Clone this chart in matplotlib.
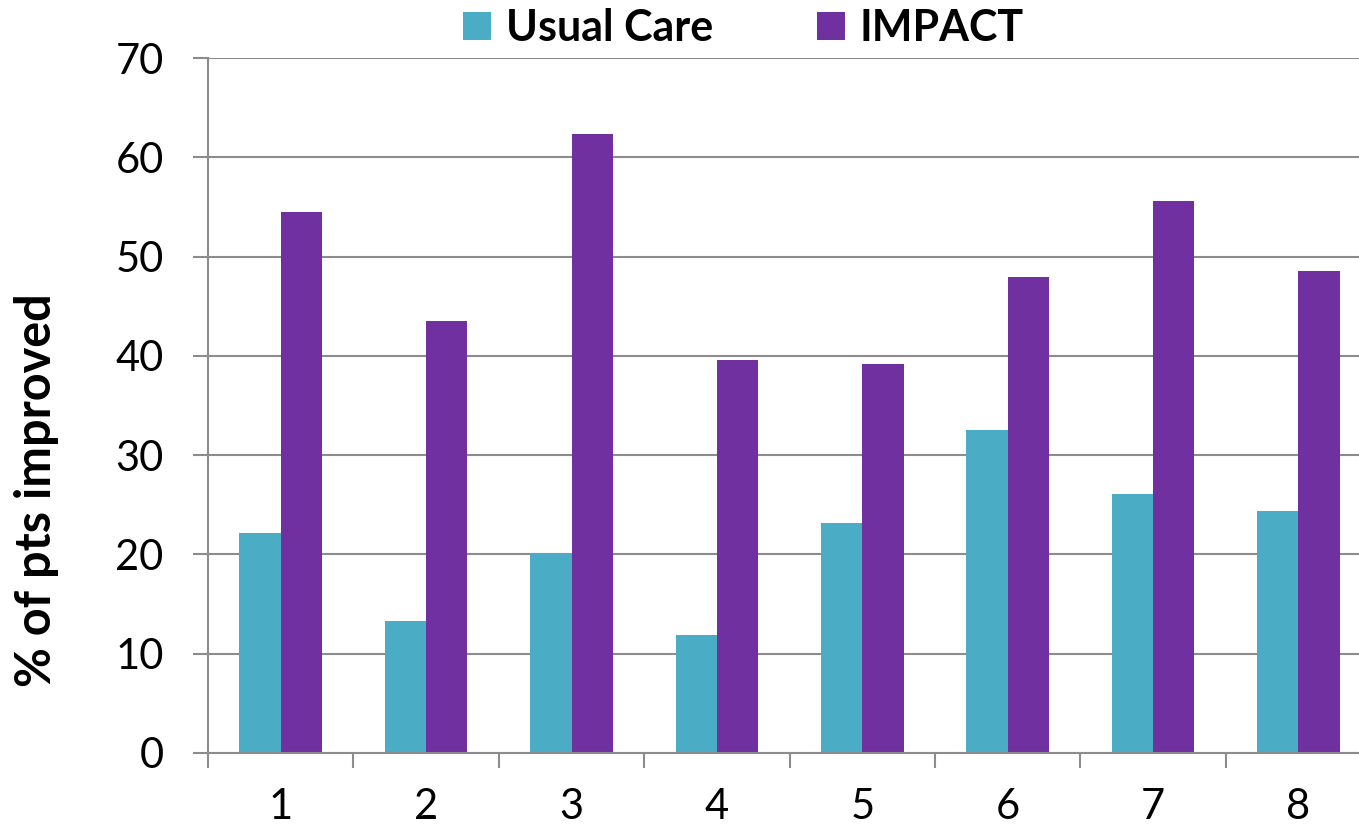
import matplotlib.pyplot as plt
import numpy as np

plt.rcParams['font.family'] = ['Lato', 'DejaVu Sans']

sites = ['1', '2', '3', '4', '5', '6', '7', '8']
usual_care = [22.2, 13.3, 20.1, 11.9, 23.2, 32.5, 26.1, 24.4]
impact = [54.5, 43.5, 62.3, 39.6, 39.2, 47.9, 55.6, 48.5]

teal = '#4bacc6'
purple = '#7030a0'
grid_c = '#8c8c8c'

fig = plt.figure(figsize=(13.59, 8.32), dpi=100)
ax = fig.add_axes([208 / 1359, 1 - 753 / 832, 1 - 208 / 1359, (753 - 58) / 832])

x = np.arange(1, len(sites) + 1)
w = 0.284
ax.bar(x - w / 2, usual_care, w, color=teal, label='Usual Care', zorder=3)
ax.bar(x + w / 2, impact, w, color=purple, label='IMPACT', zorder=3)

ax.set_yticks(range(0, 71, 10))
ax.yaxis.grid(True, color=grid_c, linewidth=1.5, zorder=0)

# category labels in centers, tick marks on boundaries
ax.set_xticks(x)
ax.set_xticklabels(sites)
ax.tick_params(axis='x', which='major', length=0, pad=25, labelsize=30)
ax.set_xticks(np.arange(0.5, 9, 1), minor=True)
ax.tick_params(axis='x', which='minor', length=11, width=1.5, color=grid_c, direction='out')
ax.tick_params(axis='y', length=11, width=1.5, color=grid_c, labelsize=30, pad=21)

ax.set_xlim(0.5, 0.5 + (1359 - 208) / 145.4)
ax.set_ylim(0, 70)

for s in ['top', 'right']:
    ax.spines[s].set_visible(False)
for s in ['left', 'bottom']:
    ax.spines[s].set_color(grid_c)
    ax.spines[s].set_linewidth(1.5)
    ax.spines[s].set_zorder(4)

fig.text(37 / 1359, 1 - 490 / 832, '% of pts improved', rotation=90,
         ha='center', va='center', fontsize=35, fontweight='bold')

fig.legend(loc='upper center', bbox_to_anchor=(0.547, 1 - 8 / 832), ncol=2, frameon=False,
           prop={'weight': 'bold', 'size': 31}, handlelength=0.65, handleheight=0.65,
           handletextpad=0.35, columnspacing=2.4, borderpad=0, borderaxespad=0)

fig.savefig('out.png', dpi=100)
